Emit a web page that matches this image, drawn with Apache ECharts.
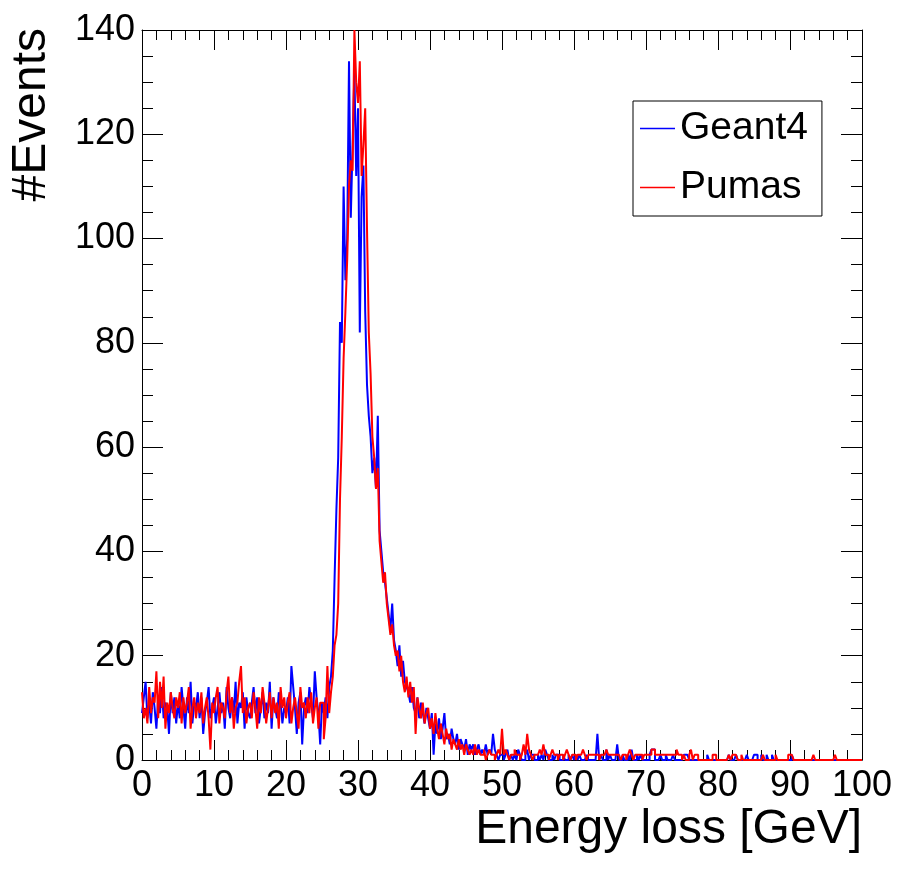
<!DOCTYPE html>
<html>
<head>
<meta charset="utf-8">
<script src="https://cdn.jsdelivr.net/npm/echarts@6/dist/echarts.min.js"></script>
<style>
html,body{margin:0;padding:0;background:#fff;}
#chart{width:897px;height:888px;}
</style>
</head>
<body>
<div id="chart"></div>
<script>
// Histogram binning (GeV)
const binWidth = 0.25;
const xRange = [0, 100];
const yRange = [0, 140];
const xStep = 10;
const yStep = 20;
const seriesNames = ['Geant4', 'Pumas'];

// Geant4 counts per 0.25 GeV bin (each row = 2.5 GeV)
const geant4 = [
  9,12,15,8,11,7,13,10,6,12,
  9,14,8,11,10,5,13,9,12,7,
  11,8,14,10,6,12,9,15,7,11,
  10,13,8,12,5,9,11,14,8,10,
  12,7,10,13,9,11,6,14,10,8,
  12,9,15,7,11,10,13,6,12,9,
  8,11,14,9,12,7,10,13,8,11,
  9,15,6,12,10,8,13,11,7,10,
  9,12,7,18,14,10,5,11,13,3,
  10,12,9,14,11,8,17,12,9,3,
  11,9,12,8,14,16,21,35,48,58,
  84,80,110,92,100,134,104,118,132,112,
  125,82,108,114,86,72,66,62,55,58,
  52,66,44,40,36,34,31,28,25,30,
  23,21,18,22,16,19,15,14,13,11,
  14,10,9,12,8,11,9,7,10,8,
  6,9,1,7,5,8,4,6,9,4,
  5,3,6,4,3,5,2,4,3,2,
  4,1,3,2,3,1,2,3,1,2,
  1,3,1,2,1,5,2,1,0,1,
  1,0,1,2,0,1,0,1,0,2,
  1,0,0,1,2,0,1,1,0,0,
  1,0,1,0,2,1,0,0,1,0,
  1,1,0,0,1,0,0,1,0,1,
  0,1,0,1,0,0,0,1,0,0,
  0,0,0,5,0,1,0,0,2,0,
  1,0,0,0,3,0,0,1,0,0,
  1,0,2,0,0,1,0,1,0,0,
  0,0,1,2,2,0,0,0,1,0,
  0,1,0,0,0,1,0,0,0,0,
  0,1,1,1,0,0,0,0,0,0,
  0,0,0,0,1,0,0,0,0,0,
  0,0,0,0,0,0,1,0,0,0,
  1,0,0,0,0,0,1,0,0,0,
  1,1,0,0,1,0,0,1,0,0,
  1,0,0,0,0,0,0,0,0,0,
  0,1,0,0,0,0,0,0,0,0,
  0,0,0,0,0,0,0,0,0,0,
  0,0,0,0,0,0,0,0,0,0,
  0,0,0,0,0,0,0,0,0,0
];

// Pumas counts per 0.25 GeV bin (each row = 2.5 GeV)
const pumas = [
  13,8,10,7,14,9,12,11,17,8,
  15,10,16,6,11,9,13,10,8,12,
  10,13,7,12,9,11,14,6,10,12,
  8,11,9,13,7,10,12,8,2,11,
  9,12,14,7,11,10,8,13,16,9,
  12,6,10,11,15,18,9,12,7,10,
  11,8,13,10,6,12,9,14,11,7,
  10,13,8,12,9,11,6,14,10,12,
  8,11,13,7,10,12,9,6,14,10,
  11,8,12,9,13,7,10,12,6,11,
  11,4,8,18,9,13,16,22,24,30,
  50,62,77,86,96,110,115,113,140,130,
  126,134,112,118,125,102,82,74,62,58,
  52,56,42,38,34,36,30,27,24,26,
  22,20,21,17,20,15,13,16,12,15,
  11,14,5,12,10,8,11,7,9,10,
  6,8,5,9,6,4,7,5,3,6,
  4,5,2,4,3,2,4,2,3,1,
  3,2,1,2,1,3,1,2,1,1,
  2,0,1,2,1,1,0,1,2,1,
  6,1,2,1,0,1,1,2,1,1,
  0,1,3,1,5,2,1,0,1,1,
  1,2,1,3,1,1,0,1,2,1,
  1,0,1,1,0,1,2,1,0,1,
  1,0,1,1,1,2,1,0,1,1,
  1,1,1,1,0,1,1,1,2,1,
  1,1,1,1,1,1,0,1,1,0,
  1,2,1,0,1,1,1,1,0,1,
  1,1,1,2,2,1,1,1,1,1,
  1,1,1,1,1,1,1,2,1,1,
  0,1,0,0,1,2,0,1,1,0,
  0,0,0,0,0,0,0,1,1,0,
  0,0,0,0,0,0,1,0,1,1,
  1,0,0,1,0,0,0,0,0,0,
  0,0,0,0,0,1,0,0,0,0,
  0,0,1,0,0,0,0,0,0,1,
  1,1,0,0,0,0,0,0,0,0,
  0,0,0,1,0,0,0,0,0,0,
  0,0,0,0,0,1,0,0,0,0,
  0,0,0,0,0,0,0,0,0,0
];

const FONT = '"Liberation Sans", Arial, Helvetica, sans-serif';

function toSteps(vals) {
  const pts = vals.map((v, i) => [xRange[0] + i * binWidth, v]);
  pts.push([xRange[0] + vals.length * binWidth, vals[vals.length - 1]]);
  return pts;
}

function xAxisDef(pos, showLabel) {
  return {
    type: 'value', position: pos, min: xRange[0], max: xRange[1], interval: xStep,
    axisLine: { show: true, onZero: false, lineStyle: { color: '#000', width: 1 } },
    axisTick: { show: true, inside: true, length: 20, lineStyle: { color: '#000', width: 1 } },
    minorTick: { show: true, splitNumber: 5, length: 10, lineStyle: { color: '#000', width: 1 } },
    splitLine: { show: false },
    axisLabel: { show: showLabel, fontSize: 36, fontFamily: FONT, color: '#000', margin: 8 }
  };
}
function yAxisDef(pos, showLabel) {
  return {
    type: 'value', position: pos, min: yRange[0], max: yRange[1], interval: yStep,
    axisLine: { show: true, onZero: false, lineStyle: { color: '#000', width: 1 } },
    axisTick: { show: true, inside: true, length: 21, lineStyle: { color: '#000', width: 1 } },
    minorTick: { show: true, splitNumber: 4, length: 11, lineStyle: { color: '#000', width: 1 } },
    splitLine: { show: false },
    axisLabel: { show: showLabel, fontSize: 36, fontFamily: FONT, color: '#000', margin: 7 }
  };
}

const chart = echarts.init(document.getElementById('chart'), null, { renderer: 'canvas' });
chart.setOption({
  animation: false,
  backgroundColor: '#fff',
  grid: { left: 142, right: 35, top: 30, bottom: 128, containLabel: false },
  xAxis: [xAxisDef('bottom', true), xAxisDef('top', false)],
  yAxis: [yAxisDef('left', true), yAxisDef('right', false)],
  legend: {
    orient: 'vertical', left: 633, top: 101,
    itemWidth: 35, itemHeight: 1.5, itemGap: 20,
    icon: 'rect',
    padding: [8, 14, 9, 7],
    borderColor: '#000', borderWidth: 1, backgroundColor: '#fff',
    textStyle: { fontSize: 39, fontFamily: FONT, color: '#000' },
    data: seriesNames
  },
  series: [
    {
      name: seriesNames[0], type: 'line', step: 'end', xAxisIndex: 0, yAxisIndex: 0,
      symbol: 'none', showSymbol: false,
      lineStyle: { color: '#0000ff', width: 2 }, itemStyle: { color: '#0000ff' },
      data: toSteps(geant4), z: 2
    },
    {
      name: seriesNames[1], type: 'line', step: 'end', xAxisIndex: 0, yAxisIndex: 0,
      symbol: 'none', showSymbol: false,
      lineStyle: { color: '#ff0000', width: 2 }, itemStyle: { color: '#ff0000' },
      data: toSteps(pumas), z: 3
    }
  ],
  graphic: [
    {
      type: 'text', right: 35, top: 806,
      style: { text: 'Energy loss [GeV]', fontSize: 48, fontFamily: FONT, fill: '#000' }
    },
    {
      type: 'text', x: 8, y: 28, rotation: Math.PI / 2,
      style: { text: '#Events', fontSize: 48, fontFamily: FONT, fill: '#000', align: 'right', verticalAlign: 'top' }
    }
  ]
});
</script>
</body>
</html>
